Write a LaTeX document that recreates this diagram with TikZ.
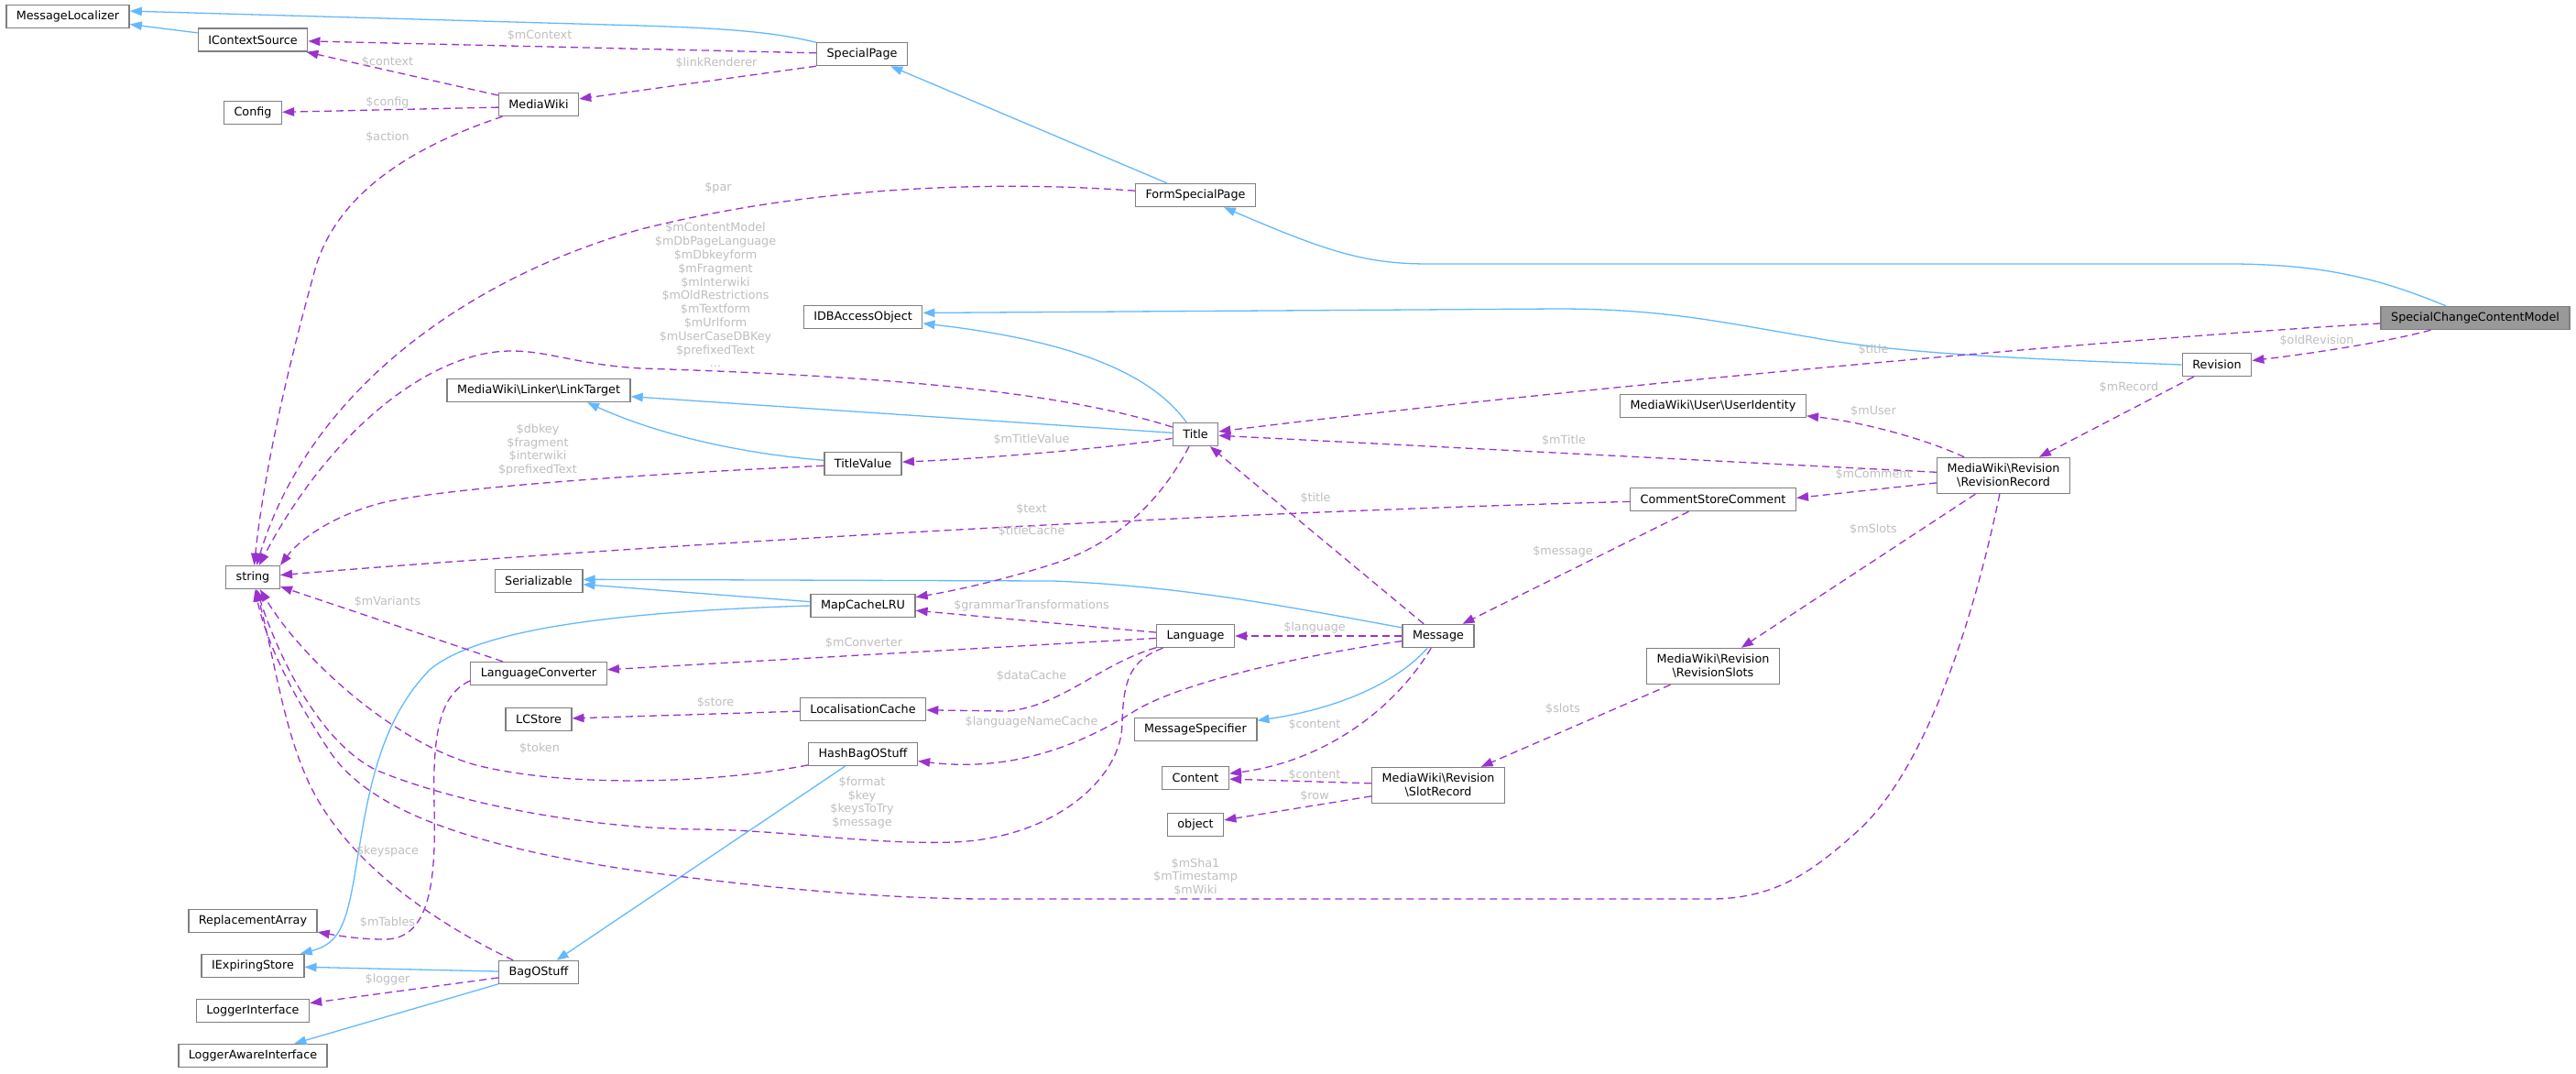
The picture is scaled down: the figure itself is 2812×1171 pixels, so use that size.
\documentclass[tikz,border=0pt]{standalone}
\usepackage{fontspec}
\setmainfont{DejaVu Sans}
\usetikzlibrary{arrows.meta}
\definecolor{inhblue}{HTML}{63B8FF}
\definecolor{usepurple}{HTML}{9A32CD}
\definecolor{boxgray}{HTML}{7F7F7F}
\definecolor{curgray}{HTML}{999999}
\definecolor{lblgray}{HTML}{BEBEBE}

\begin{document}
\begin{tikzpicture}[x=1pt, y=-1pt,
        cls/.style={rectangle, draw=boxgray, fill=white, line width=1.4pt, minimum height=25pt, inner xsep=11pt, inner ysep=2pt, font=\fontsize{12.75}{15}\selectfont},
        cls2/.style={cls, align=center, minimum height=39pt},
        cur/.style={cls, fill=curgray},
        inh/.style={-{Triangle[length=13pt, width=9.5pt]}, draw=inhblue, line width=1.3pt},
        usg/.style={-{Triangle[length=13pt, width=9.5pt]}, draw=usepurple, line width=1.3pt, dash pattern=on 8pt off 5pt},
        lbl/.style={font=\fontsize{12.75}{14.8}\selectfont, text=lblgray, align=center, inner sep=0pt}
    ]
    \useasboundingbox (0,0) rectangle (2812,1171);

    % X coordinates (px):
    % 74: MessageLocalizer
    % 276: IContextSource, Config, string, ReplacementArray, IExpiringStore, loggers
    % 588: MediaWiki, LinkTarget, Serializable, LanguageConverter, LCStore, BagOStuff
    % 942: SpecialPage, IDBAccessObject, TitleValue, MapCacheLRU, LocalisationCache, HashBagOStuff
    % 1305: FormSpecialPage, Title, Language, MessageSpecifier, Content, object
    % 1570: Message, SlotRecord
    % 1870: UserIdentity, CommentStoreComment, RevisionSlots
    % 2187: RevisionRecord
    % 2420: Revision
    % 2702: SpecialChangeContentModel

    % Classes
    \node[cls] (ml) at (74,18) {MessageLocalizer};

    \node[cls] (ics) at (276,43.5) {IContextSource};
    \node[cls] (cfg) at (276,123) {Config};
    \node[cls] (str) at (276,630) {string};
    \node[cls] (ra) at (276,1005) {ReplacementArray};
    \node[cls] (ies) at (276,1054) {IExpiringStore};
    \node[cls] (li) at (276,1103) {LoggerInterface};
    \node[cls] (lai) at (276,1152) {LoggerAwareInterface};

    \node[cls] (mw) at (588,114) {MediaWiki};
    \node[cls] (lt) at (588,426) {MediaWiki\textbackslash Linker\textbackslash LinkTarget};
    \node[cls] (ser) at (588,634) {Serializable};
    \node[cls] (lc) at (588,735) {LanguageConverter};
    \node[cls] (lcs) at (588,785) {LCStore};
    \node[cls] (bag) at (588,1061) {BagOStuff};

    \node[cls] (sp) at (941,59) {SpecialPage};
    \node[cls] (idb) at (942,346) {IDBAccessObject};
    \node[cls] (tv) at (942,506) {TitleValue};
    \node[cls] (mcl) at (942,661) {MapCacheLRU};
    \node[cls] (loc) at (942,774) {LocalisationCache};
    \node[cls] (hbag) at (942,823) {HashBagOStuff};

    \node[cls] (fsp) at (1305,213) {FormSpecialPage};
    \node[cls] (title) at (1305,474) {Title};
    \node[cls] (lang) at (1305,694) {Language};
    \node[cls] (ms) at (1305,796) {MessageSpecifier};
    \node[cls] (cont) at (1305,849) {Content};
    \node[cls] (obj) at (1305,900) {object};

    \node[cls] (msg) at (1570,694) {Message};
    \node[cls2] (slot) at (1570,857) {MediaWiki\textbackslash Revision\\\textbackslash SlotRecord};

    \node[cls] (uid) at (1870,443) {MediaWiki\textbackslash User\textbackslash UserIdentity};
    \node[cls] (csc) at (1870,545) {CommentStoreComment};
    \node[cls2] (rs) at (1870,727) {MediaWiki\textbackslash Revision\\\textbackslash RevisionSlots};

    \node[cls2] (rr) at (2187,519) {MediaWiki\textbackslash Revision\\\textbackslash RevisionRecord};
    \node[cls] (rev) at (2420,398) {Revision};
    \node[cur] (sccm) at (2702,347) {SpecialChangeContentModel};

    % Inheritance
    \draw[inh] (ics) -- (ml);
    \draw[inh] (sp) .. controls (850,36) and (800,31) .. (700,28) -- (ml.5);
    \draw[inh] (fsp) -- (sp);
    \draw[inh] (sccm) .. controls (2600,305) and (2540,289) .. (2440,288) -- (1560,288) .. controls (1490,288) and (1450,275) .. (fsp);
    \draw[inh] (rev.west) .. controls (2250,393) and (2100,388) .. (2000,372) .. controls (1880,352) and (1820,337) .. (1700,337) -- (idb.4);
    \draw[inh] (title) .. controls (1265,420) and (1200,375) .. (idb.-6);
    \draw[inh] (title) -- (lt);
    \draw[inh] (tv.175) .. controls (810,495) and (720,475) .. (lt.-14);
    \draw[inh] (mcl) -- (ser);
    \draw[inh] (msg.167) .. controls (1420,665) and (1300,640) .. (1150,634) -- (ser.2);
    \draw[inh] (mcl.west) .. controls (650,668) and (520,690) .. (470,730) .. controls (410,790) and (400,880) .. (388,950) .. controls (378,1010) and (370,1030) .. (ies);
    \draw[inh] (hbag) -- (bag);
    \draw[inh] (bag) -- (ies);
    \draw[inh] (bag) -- (lai);
    \draw[inh] (msg) .. controls (1520,750) and (1450,775) .. (ms);

    % Members
    \draw[usg] (sp) -- (ics);
    \draw[usg] (sp.south west) -- (mw);
    \draw[usg] (mw) -- (ics);
    \draw[usg] (mw.184) -- (cfg);
    \draw[usg] (mw) .. controls (450,160) and (370,210) .. (345,290) .. controls (320,380) and (290,500) .. (str);
    \draw[usg] (fsp) .. controls (1100,198) and (900,200) .. (700,250) .. controls (520,300) and (340,420) .. (str);
    \draw[usg] (title) .. controls (1150,425) and (950,410) .. (700,402) .. controls (630,398) and (600,383) .. (558,383) .. controls (470,383) and (360,470) .. (str);
    \draw[usg] (tv.183) .. controls (750,515) and (500,530) .. (420,548) .. controls (370,560) and (330,585) .. (str.north east);
    \draw[usg] (csc) .. controls (1300,560) and (700,595) .. (str);
    \draw[usg] (lc) -- (str);
    \draw[usg] (hbag) .. controls (780,855) and (620,860) .. (520,835) .. controls (430,810) and (330,720) .. (str);
    \draw[usg] (lang) .. controls (1235,720) and (1226,740) .. (1225,790) .. controls (1224,850) and (1150,915) .. (1040,919) .. controls (950,922) and (850,905) .. (760,905) .. controls (620,903) and (480,870) .. (410,840) .. controls (350,810) and (305,720) .. (str);
    \draw[usg] (msg) .. controls (1420,715) and (1290,745) .. (1240,775) .. controls (1200,800) and (1120,845) .. (hbag);
    \draw[usg] (lang) .. controls (1200,725) and (1160,770) .. (1100,776) -- (loc);
    \draw[usg] (lang) -- (mcl);
    \draw[usg] (lang) -- (lc);
    \draw[usg] (title) .. controls (1270,540) and (1230,585) .. (1160,612) .. controls (1100,632) and (1040,645) .. (mcl);
    \draw[usg] (title.190) .. controls (1200,490) and (1080,500) .. (tv);
    \draw[usg] (msg) -- (title);
    \draw[usg] (rr) -- (title);
    \draw[usg] (sccm) .. controls (2300,370) and (1700,425) .. (title);
    \draw[usg] (sccm) .. controls (2610,372) and (2530,385) .. (rev);
    \draw[usg] (rev) -- (rr);
    \draw[usg] (rr) .. controls (2100,478) and (2030,460) .. (uid);
    \draw[usg] (rr) -- (csc.1);
    \draw[usg] (rr) -- (rs);
    \draw[usg] (rs) -- (slot);
    \draw[usg] (csc) -- (msg);
    \draw[usg] (msg) -- (lang);
    \draw[usg] (msg) .. controls (1525,770) and (1450,830) .. (cont);
    \draw[usg] (slot) -- (cont);
    \draw[usg] (slot) -- (obj);
    \draw[usg] (lc.186) .. controls (480,758) and (472,800) .. (474,880) .. controls (476,960) and (470,1025) .. (420,1025) .. controls (395,1025) and (375,1022) .. (ra);
    \draw[usg] (loc) -- (lcs);
    \draw[usg] (bag) .. controls (470,1005) and (380,940) .. (340,860) .. controls (310,800) and (300,720) .. (str);
    \draw[usg] (bag) -- (li);
    \draw[usg] (rr) .. controls (2160,650) and (2110,830) .. (2030,905) .. controls (1980,950) and (1940,980) .. (1870,981) -- (1080,981) .. controls (950,981) and (800,965) .. (680,948) .. controls (500,920) and (400,880) .. (360,820) .. controls (320,760) and (290,700) .. (str);

    % Member labels
    \node[lbl] (lmcontext) at (589,39) {\$mContext};
    \node[lbl] (lcontext) at (423,68) {\$context};
    \node[lbl] (lconfig) at (423,112) {\$config};
    \node[lbl] (laction) at (423,150) {\$action};
    \node[lbl] (llinkr) at (782,69) {\$linkRenderer};
    \node[lbl] (lpar) at (784,205) {\$par};
    \node[lbl] (ltitlestr) at (781,322) {\$mContentModel\\\$mDbPageLanguage\\\$mDbkeyform\\\$mFragment\\\$mInterwiki\\\$mOldRestrictions\\\$mTextform\\\$mUrlform\\\$mUserCaseDBKey\\\$prefixedText\\...};
    \node[lbl] (ltvstr) at (587,491) {\$dbkey\\\$fragment\\\$interwiki\\\$prefixedText};
    \node[lbl] (lmvariants) at (423,657) {\$mVariants};
    \node[lbl] (lmtitlevalue) at (1126,480) {\$mTitleValue};
    \node[lbl] (ltext) at (1126,556) {\$text};
    \node[lbl] (ltitlecache) at (1126,580) {\$titleCache};
    \node[lbl] (ltitlemsg) at (1436,544) {\$title};
    \node[lbl] (ltitlesccm) at (2045,382) {\$title};
    \node[lbl] (lgrammar) at (1126,661) {\$grammarTransformations};
    \node[lbl] (llanguage) at (1435,685) {\$language};
    \node[lbl] (lmconverter) at (943,702) {\$mConverter};
    \node[lbl] (ldatacache) at (1126,738) {\$dataCache};
    \node[lbl] (llangname) at (1126,788) {\$languageNameCache};
    \node[lbl] (lstore) at (781,767) {\$store};
    \node[lbl] (ltoken) at (589,817) {\$token};
    \node[lbl] (lkeyspace) at (423,929) {\$keyspace};
    \node[lbl] (lmtables) at (423,1007) {\$mTables};
    \node[lbl] (llogger) at (423,1069) {\$logger};
    \node[lbl] (lformat) at (941,876) {\$format\\\$key\\\$keysToTry\\\$message};
    \node[lbl] (lmsha) at (1305,957) {\$mSha1\\\$mTimestamp\\\$mWiki};
    \node[lbl] (lcontmsg) at (1435,791) {\$content};
    \node[lbl] (lcontslot) at (1435,846) {\$content};
    \node[lbl] (lrow) at (1435,869) {\$row};
    \node[lbl] (lmuser) at (2045,449) {\$mUser};
    \node[lbl] (lmtitle) at (1707,481) {\$mTitle};
    \node[lbl] (lmcomment) at (2045,518) {\$mComment};
    \node[lbl] (lmessage) at (1706,602) {\$message};
    \node[lbl] (lmslots) at (2045,578) {\$mSlots};
    \node[lbl] (lslots) at (1706,774) {\$slots};
    \node[lbl] (loldrev) at (2529,372) {\$oldRevision};
    \node[lbl] (lmrecord) at (2324,423) {\$mRecord};

\end{tikzpicture}
\end{document}
